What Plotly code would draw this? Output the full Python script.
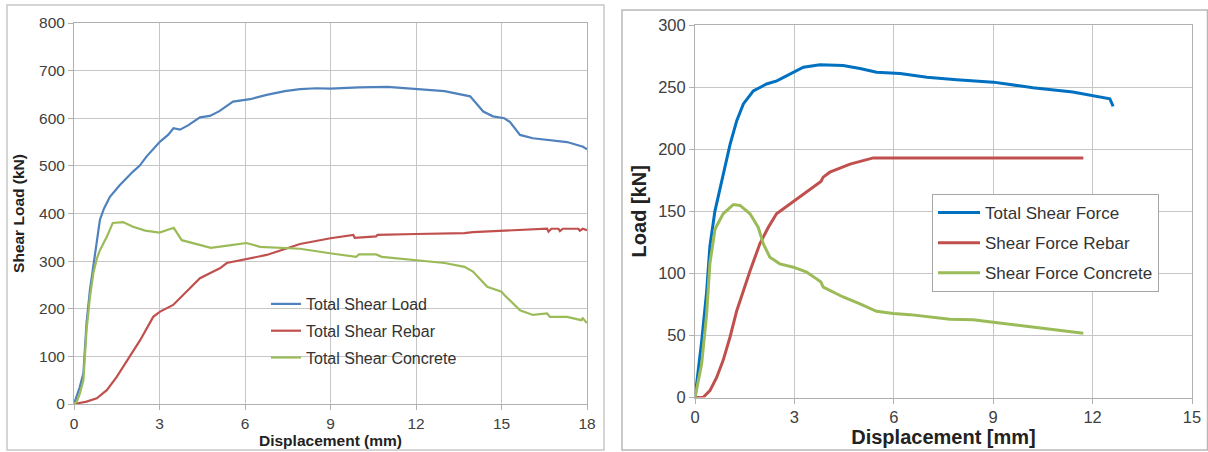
import plotly.graph_objects as go

W, H = 1208, 452

# ---------------- Left chart data ----------------
L_load_x = [0, 0.2, 0.33, 0.44, 0.56, 0.67, 0.8, 0.91, 1.05, 1.26, 1.61, 1.9, 2.07, 2.3, 2.55, 3.02, 3.3, 3.49, 3.72, 4.0, 4.42, 4.77, 5.1, 5.58, 6.18, 6.76, 7.4, 7.93, 8.5, 9.0, 10.0, 11.0, 12.02, 13.0, 13.9, 14.36, 14.7, 15.1, 15.3, 15.65, 16.1, 16.7, 17.3, 17.86, 18.0]
L_load_y = [0, 35, 65, 170, 240, 290, 340, 387, 410, 435, 460, 478, 488, 500, 520, 551, 565, 579, 576, 585, 602, 605, 615, 635, 640, 649, 657, 661, 663, 662, 665, 666, 662, 657, 646, 614, 604, 600, 592, 565, 558, 554, 550, 540, 535]

L_rebar_x = [0, 0.44, 0.8, 1.15, 1.5, 1.85, 2.32, 2.78, 3.02, 3.48, 3.72, 4.07, 4.42, 4.89, 5.12, 5.36, 5.82, 6.76, 7.93, 9.0, 9.8, 9.85, 10.6, 10.65, 12.0, 13.7, 14.0, 15.0, 16.1, 16.6, 16.65, 16.75, 17.0, 17.05, 17.15, 17.7, 17.75, 17.85, 18.0]
L_rebar_y = [0, 5, 12, 29, 57, 89, 134, 183, 194, 208, 222, 243, 264, 278, 285, 296, 302, 313, 336, 348, 355, 349, 352, 355, 357, 359, 361, 364, 366, 368, 362, 368, 368, 363, 368, 368, 364, 368, 365]

L_conc_x = [0, 0.1, 0.21, 0.33, 0.44, 0.56, 0.68, 0.8, 0.91, 1.15, 1.36, 1.72, 2.07, 2.5, 3.0, 3.3, 3.5, 3.78, 4.42, 4.8, 5.58, 6.05, 6.53, 7.93, 9.04, 9.9, 10.0, 10.6, 10.8, 12.0, 13.0, 13.7, 14.0, 14.5, 15.0, 15.1, 15.65, 16.1, 16.6, 16.7, 17.3, 17.8, 17.85, 18.0]
L_conc_y = [0, 5, 23, 50, 155, 225, 275, 305, 323, 351, 380, 382, 372, 364, 360, 367, 370, 344, 334, 328, 334, 338, 330, 326, 316, 309, 314, 314, 309, 302, 296, 288, 278, 246, 236, 229, 197, 187, 190, 183, 183, 176, 180, 170]

L_names = ["Total Shear Load", "Total Shear Rebar", "Total Shear Concrete"]
L_xticks = [0, 3, 6, 9, 12, 15, 18]
L_yticks = [0, 100, 200, 300, 400, 500, 600, 700, 800]

# ---------------- Right chart data ----------------
R_total_x = [0, 0.2, 0.35, 0.45, 0.6, 0.86, 1.06, 1.26, 1.46, 1.76, 2.16, 2.47, 2.87, 3.27, 3.77, 4.47, 4.98, 5.48, 6.19, 7.0, 7.9, 9.0, 10.2, 11.4, 12.52, 12.62]
R_total_y = [0, 45, 85, 122, 150, 180, 204, 223, 236.5, 247, 252.5, 255, 260.6, 266, 268, 267.3, 265, 262, 261, 258, 256, 254, 249.5, 246, 240.6, 234.5]

R_rebar_x = [0, 0.25, 0.45, 0.65, 0.85, 1.06, 1.26, 1.46, 1.66, 1.96, 2.16, 2.21, 2.46, 2.87, 3.27, 3.67, 3.8, 3.87, 4.07, 4.68, 5.38, 11.72]
R_rebar_y = [0, 0.3, 5.6, 16, 30, 49, 70, 86, 102, 124, 134.5, 137, 148, 156, 164, 172, 174, 177.5, 181.5, 188, 193, 193]

R_conc_x = [0, 0.2, 0.35, 0.45, 0.6, 0.65, 0.85, 1.16, 1.36, 1.66, 1.91, 2.06, 2.26, 2.56, 2.97, 3.37, 3.67, 3.8, 3.87, 4.47, 4.98, 5.48, 5.98, 6.49, 7.69, 8.4, 9.0, 10.2, 11.72]
R_conc_y = [0, 27, 67, 108, 135, 138, 148, 155.5, 154.7, 148, 137, 124, 113, 107.7, 105, 101, 95.6, 93, 89, 81, 75.5, 69.5, 67.8, 66.8, 63, 62.6, 60.7, 56.6, 51.8]

R_names = ["Total Shear Force", "Shear Force Rebar", "Shear Force Concrete"]
R_xticks = [0, 3, 6, 9, 12, 15]
R_yticks = [0, 50, 100, 150, 200, 250, 300]

L_colors = ["#4f81bd", "#c0504d", "#9bbb59"]
R_colors = ["#0070c0", "#c0504d", "#9bbb59"]

fig = go.Figure()

for xs, ys, nm, c, g in zip([L_load_x, L_rebar_x, L_conc_x], [L_load_y, L_rebar_y, L_conc_y], L_names, L_colors, ["a", "b", "c"]):
    fig.add_trace(go.Scatter(x=xs, y=ys, name=nm, mode="lines", line=dict(color=c, width=2.2),
                             xaxis="x", yaxis="y", legend="legend", legendgroup=g))

for xs, ys, nm, c, g in zip([R_total_x, R_rebar_x, R_conc_x], [R_total_y, R_rebar_y, R_conc_y], R_names, R_colors, ["d", "e", "f"]):
    fig.add_trace(go.Scatter(x=xs, y=ys, name=nm, mode="lines", line=dict(color=c, width=3),
                             xaxis="x2", yaxis="y2", legend="legend2", legendgroup=g))

def px(v):
    return v / W

def py(v):
    return 1 - v / H

grid = "#c6c6c6"
tickc = "#404040"

axis_common = dict(showgrid=True, gridcolor=grid, gridwidth=1, showline=True, linecolor="#b0b0b0",
                   linewidth=1, mirror=True, ticks="outside", ticklen=5, tickcolor="#b0b0b0",
                   zeroline=False, fixedrange=True, automargin=False)

fig.update_layout(
    width=W, height=H, margin=dict(l=0, r=0, t=0, b=0),
    paper_bgcolor="white", plot_bgcolor="white",
    font=dict(family="Liberation Sans, Arial, sans-serif", color=tickc),
    xaxis=dict(domain=[px(74), px(587)], range=[0, 18], tickvals=L_xticks, anchor="y",
               tickfont=dict(size=15.5, color=tickc),
               title=dict(text="<b>Displacement (mm)</b>", font=dict(size=15.5, color="#222"), standoff=2),
               **axis_common),
    yaxis=dict(domain=[py(404), py(23)], range=[0, 800], tickvals=L_yticks, anchor="x",
               tickfont=dict(size=15.5, color=tickc),
               title=dict(text="<b>Shear Load (kN)</b>", font=dict(size=15.5, color="#222"), standoff=10),
               **axis_common),
    xaxis2=dict(domain=[px(695), px(1192)], range=[0, 15], tickvals=R_xticks, anchor="y2",
                tickfont=dict(size=16.5, color=tickc),
                title=dict(text="<b>Displacement [mm]</b>", font=dict(size=20, color="#222"), standoff=0),
                **axis_common),
    yaxis2=dict(domain=[py(397.6), py(25)], range=[0, 300], tickvals=R_yticks, anchor="x2",
                tickfont=dict(size=16.5, color=tickc),
                title=dict(text="<b>Load [kN]</b>", font=dict(size=20, color="#222"), standoff=6),
                **axis_common),
    legend=dict(x=px(266), y=py(287), xanchor="left", yanchor="top", bgcolor="rgba(0,0,0,0)",
                borderwidth=0, font=dict(size=16, color="#333"), tracegroupgap=3,
                traceorder="grouped"),
    legend2=dict(x=px(932), y=py(194), xanchor="left", yanchor="top", bgcolor="white",
                 bordercolor="#a6a6a6", borderwidth=1, font=dict(size=17, color="#333"),
                 tracegroupgap=5, traceorder="grouped", itemwidth=42),
    shapes=[
        dict(type="rect", xref="paper", yref="paper", x0=px(7), x1=px(604), y0=py(450), y1=py(5),
             line=dict(color="#c8c8c8", width=1.5), layer="below"),
        dict(type="rect", xref="paper", yref="paper", x0=px(622), x1=px(1207.5), y0=py(450), y1=py(10),
             line=dict(color="#b8b8b8", width=1.5), layer="below"),
    ],
)

fig.write_html("out.html")
